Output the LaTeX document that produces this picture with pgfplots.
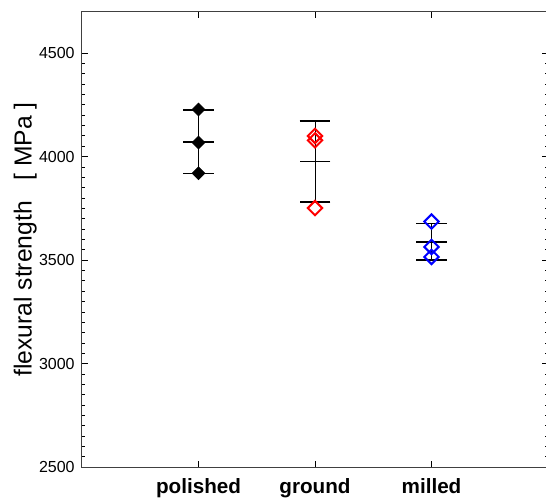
\documentclass[border=0pt]{standalone}
\usepackage{fontspec}
\setmainfont{Liberation Sans}
\usepackage{pgfplots}
\pgfplotsset{compat=1.18}
\begin{document}
\begin{tikzpicture}
\begin{axis}[
    scale only axis,
    width=349.5pt, height=341.7pt,
    xmin=0, xmax=4,
    ymin=2500, ymax=4700,
    xtick={1,2,3},
    xticklabels={polished,ground,milled},
    ytick={2500,3000,3500,4000,4500},
    minor y tick num=9,
    tick align=inside,
    major tick length=4.5pt,
    minor tick length=2pt,
    axis line style={line width=0.75pt, black!75},
    tick style={line width=0.75pt, black},
    /pgf/number format/assume math mode=true,
    /pgf/number format/set thousands separator={},
    yticklabel style={font=\fontsize{12}{14}\selectfont, xshift=-2pt},
    xticklabel style={font=\fontsize{15.5}{18}\selectfont\bfseries, yshift=-4.8pt},
    ylabel={flexural strength\ \ \ [ MPa ]},
    every axis y label/.style={at={(axis description cs:-0.1079,0.5)}, rotate=90, anchor=base,
        font=\fontsize{18.5}{22}\selectfont},
    clip=false,
]
\coordinate (O) at (rel axis cs:0,0);
% mean +- standard deviation
\addplot[black, line width=1.2pt, only marks, mark=-, mark size=11.6pt,
    error bars/.cd, y dir=both, y explicit,
    error mark=|, error mark options={mark size=11.6pt, line width=1.2pt},
    error bar style={line width=0.6pt}]
    coordinates {
    (1,4072) +- (0,154)
    (2,3977) +- (0,195)
    (3,3589) +- (0,88)
};
% polished
\addplot[only marks, mark=square*, mark size=3.4pt,
    mark options={rotate=45, fill=black, draw=black, line width=0.5pt}]
    coordinates {(1,4228) (1,4068) (1,3920)};
% ground
\addplot[only marks, mark=square, mark size=3.8pt,
    mark options={rotate=45, draw=red, line width=1.5pt}]
    coordinates {(2,4100) (2,4079) (2,3752)};
% milled
\addplot[only marks, mark=square, mark size=3.8pt,
    mark options={rotate=45, draw=blue, line width=1.5pt}]
    coordinates {(3,3687) (3,3564) (3,3516)};
\end{axis}
\pgfresetboundingbox
\path[use as bounding box] ([shift={(-61.5pt,-26pt)}]O) rectangle ([shift={(348pt,350.5pt)}]O);
\end{tikzpicture}
\end{document}
